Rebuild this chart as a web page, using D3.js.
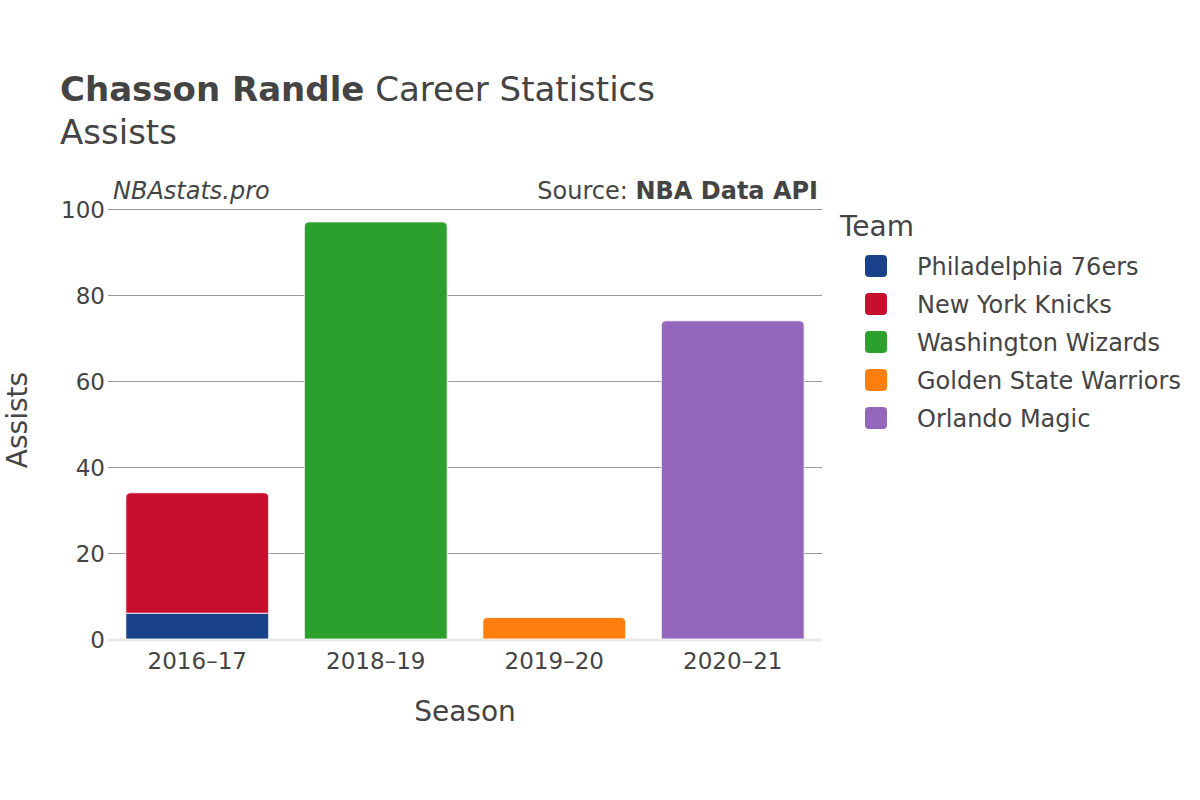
<!DOCTYPE html>
<html><head><meta charset="utf-8">
<script src="https://cdn.jsdelivr.net/npm/d3@7"></script>
<style>body{margin:0;background:#fff}svg{font-family:"DejaVu Sans",sans-serif}</style>
</head><body><svg id="c" width="1200" height="800"></svg>
<script>
const seasons = ["2016–17","2018–19","2019–20","2020–21"];
const teams = ["Philadelphia 76ers","New York Knicks","Washington Wizards","Golden State Warriors","Orlando Magic"];
const colors = ["#1a428a","#c8102e","#2ca02c","#ff7f0e","#9467bd"];
// assists per team per season (rows = teams, columns = seasons)
const phi = [6,0,0,0];
const nyk = [28,0,0,0];
const was = [0,97,0,0];
const gsw = [0,0,5,0];
const orl = [0,0,0,74];
const series = [phi,nyk,was,gsw,orl];
const yTicks = [0,20,40,60,80,100];

const svg = d3.select("#c");
const L=108,R=822,T=209,B=639;
const x = d3.scaleBand().domain(seasons).range([L,R]).paddingInner(0.2).paddingOuter(0.1);
const y = d3.scaleLinear().domain([0,100]).range([B,T]);

// gridlines
svg.append("g").selectAll("line").data(yTicks.filter(d=>d>0)).join("line")
  .attr("x1",L).attr("x2",R).attr("y1",d=>y(d)+0.5).attr("y2",d=>y(d)+0.5)
  .attr("stroke","#9a9a9a").attr("stroke-width",1).attr("shape-rendering","crispEdges");
svg.append("line").attr("x1",L).attr("x2",R).attr("y1",B+1).attr("y2",B+1).attr("stroke","#e8e8e8").attr("stroke-width",3);

// stacked bars
const stackData = seasons.map((s,i)=>{const o={season:s};teams.forEach((t,k)=>o[t]=series[k][i]);return o;});
const stacked = d3.stack().keys(teams)(stackData);
const totals = seasons.map((s,i)=>d3.sum(series,a=>a[i]));
const r=5;
function barPath(x0,w,y0,y1,round){
  if(!round) return `M${x0},${y0}V${y1}H${x0+w}V${y0}Z`;
  const rr=Math.min(r,(y0-y1));
  return `M${x0},${y0}V${y1+rr}Q${x0},${y1} ${x0+rr},${y1}H${x0+w-rr}Q${x0+w},${y1} ${x0+w},${y1+rr}V${y0}Z`;
}
stacked.forEach((layer,k)=>{
  svg.append("g").selectAll("path").data(layer.filter(d=>d[1]-d[0]>0)).join("path")
    .attr("d",d=>{const i=seasons.indexOf(d.data.season);
      return barPath(x(d.data.season),x.bandwidth(),y(d[0]),y(d[1]),d[1]===totals[i]);})
    .attr("fill",colors[k]).attr("stroke","#fff").attr("stroke-width",0.8);
});

// axes
const yAxis = svg.append("g").attr("transform",`translate(${L-3},0)`)
  .call(d3.axisLeft(y).tickValues(yTicks).tickSize(0).tickPadding(0));
yAxis.select(".domain").remove();
yAxis.selectAll("text").attr("font-size",23).attr("fill","#444").attr("dy","0.35em").attr("font-family","DejaVu Sans");
const xAxis = svg.append("g").attr("transform",`translate(0,${B+6})`)
  .call(d3.axisBottom(x).tickSize(0));
xAxis.select(".domain").remove();
xAxis.selectAll("text").attr("font-size",23).attr("fill","#444").attr("dy","0.9em").attr("font-family","DejaVu Sans");

// titles
const title = svg.append("text").attr("x",60).attr("y",101).attr("font-size",34).attr("fill","#444");
title.append("tspan").attr("font-weight","bold").text("Chasson Randle");
title.append("tspan").text(" Career Statistics");
svg.append("text").attr("x",60).attr("y",144).attr("font-size",34).attr("fill","#444").text("Assists");
svg.append("text").attr("x",113).attr("y",199).attr("font-size",24).attr("font-style","italic").attr("fill","#444").text("NBAstats.pro");
const src = svg.append("text").attr("x",818).attr("y",199).attr("font-size",24).attr("text-anchor","end").attr("fill","#444");
src.append("tspan").text("Source: ");
src.append("tspan").attr("font-weight","bold").text("NBA Data API");
svg.append("text").attr("x",465).attr("y",721).attr("font-size",28).attr("text-anchor","middle").attr("fill","#444").text("Season");
svg.append("text").attr("transform","translate(27,420) rotate(-90)").attr("font-size",28).attr("text-anchor","middle").attr("fill","#444").text("Assists");

// legend
svg.append("text").attr("x",840).attr("y",236).attr("font-size",28).attr("fill","#444").text("Team");
const lg = svg.append("g").selectAll("g").data(teams).join("g")
  .attr("transform",(d,i)=>`translate(865,${266+i*38})`);
lg.append("rect").attr("x",0).attr("y",-11).attr("width",22).attr("height",22).attr("rx",4)
  .attr("fill",(d,i)=>colors[i]);
lg.append("text").attr("x",52).attr("y",1).attr("dy","0.35em").attr("font-size",24).attr("fill","#444").text(d=>d);
</script></body></html>
